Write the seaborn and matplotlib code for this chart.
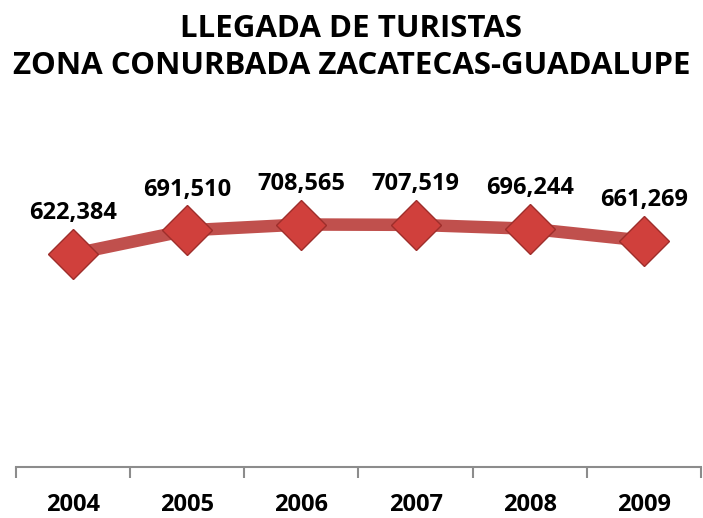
import numpy as np
import pandas as pd
import matplotlib
matplotlib.use("Agg")
import matplotlib.pyplot as plt
import seaborn as sns

# ── Data ──────────────────────────────────────────────────────────────
years = ["2004", "2005", "2006", "2007", "2008", "2009"]
visitors = [622384, 691510, 708565, 707519, 696244, 661269]
labels = ["622,384", "691,510", "708,565", "707,519", "696,244", "661,269"]

df = pd.DataFrame({"year": years, "visitors": visitors})

sns.set_theme(style="white")
plt.rcParams["font.family"] = ["Open Sans", "DejaVu Sans"]

LINE = "#C0504D"

fig = plt.figure(figsize=(7.03, 5.18), dpi=100)
ax = fig.add_axes([16 / 703, 51 / 518, 685 / 703, 269 / 518])

sns.lineplot(data=df, x="year", y="visitors", ax=ax, color=LINE,
             linewidth=9, marker="D", markersize=25,
             markerfacecolor="#D0403C", markeredgecolor="#9E2E2B",
             markeredgewidth=1.0, solid_capstyle="butt")

for i, (v, lab) in enumerate(zip(visitors, labels)):
    ax.annotate(lab, (i, v), xytext=(0, 25), textcoords="offset points",
                ha="center", va="baseline", fontsize=17, fontweight="bold",
                color="black", annotation_clip=False)

ax.set_xlim(-0.5, len(years) - 0.5)
ax.set_ylim(0, 786000)
ax.set_xlabel("")
ax.set_ylabel("")
ax.set_yticks([])
ax.set_xticks(range(len(years)))
ax.set_xticklabels(years, fontsize=17, fontweight="bold", color="black")
ax.set_xticks(np.arange(-0.5, len(years)), minor=True)
ax.tick_params(axis="x", which="major", length=0, pad=19)
ax.tick_params(axis="x", which="minor", length=8, width=1.5,
               color="#8C8C8C", direction="out", bottom=True)
for s in ["top", "right", "left"]:
    ax.spines[s].set_visible(False)
ax.spines["bottom"].set_color("#8C8C8C")
ax.spines["bottom"].set_linewidth(1.5)

fig.text(0.5, 1 - 37 / 518, "LLEGADA DE TURISTAS", ha="center", va="baseline",
         fontsize=22.5, fontweight="bold", color="black")
fig.text(0.5, 1 - 74 / 518, "ZONA CONURBADA ZACATECAS-GUADALUPE", ha="center",
         va="baseline", fontsize=22.5, fontweight="bold", color="black")

fig.savefig("out.png", dpi=100)
